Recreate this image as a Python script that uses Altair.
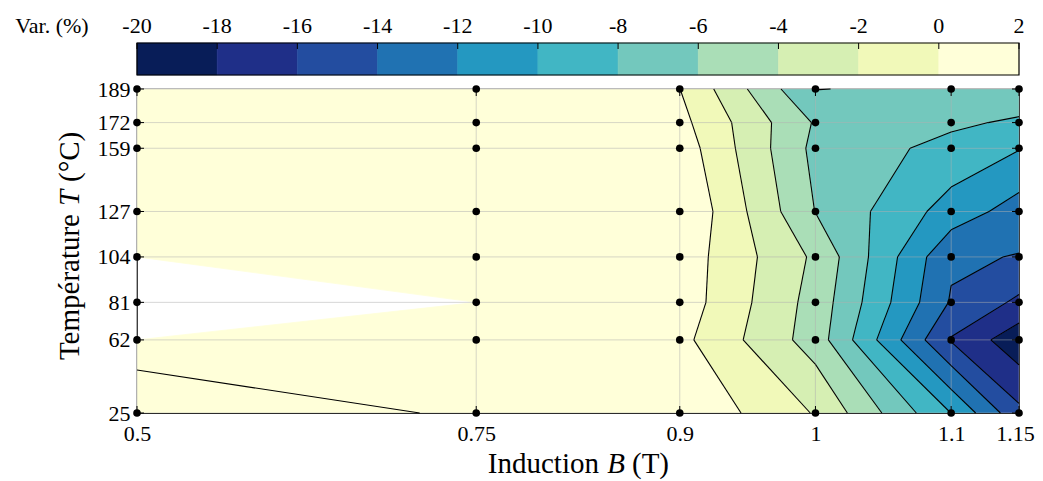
import altair as alt
import pandas as pd

# ---------------- data ----------------
B_VALUES = [0.5, 0.75, 0.9, 1.0, 1.1, 1.15]          # induction (T)
T_VALUES = [25, 62, 81, 104, 127, 159, 172, 189]      # temperature (°C)

# variation (%) for each temperature of T_VALUES, one list per induction
VAR_B050 = [2.40, 1.72, None, 1.40, 1.50, 1.30, 1.20, 1.00]
VAR_B075 = [1.92, 1.30, 1.40, 1.50, 1.60, 1.40, 1.20, 0.80]
VAR_B090 = [1.77, 0.57, 1.14, 1.16, 1.96, 1.16, 0.60, 0.02]
VAR_B100 = [-2.15, -4.93, -4.77, -4.36, -6.05, -6.55, -6.20, -8.05]
VAR_B110 = [-10.02, -16.17, -14.19, -13.68, -10.86, -8.63, -7.64, -7.60]
VAR_B115 = [-15.50, -19.30, -16.40, -14.10, -12.90, -9.90, -8.30, -6.60]

LEVELS = [-20, -18, -16, -14, -12, -10, -8, -6, -4, -2, 0, 2]
LEVEL_LABELS = ["-20", "-18", "-16", "-14", "-12", "-10", "-8", "-6", "-4", "-2", "0", "2"]

# ---------------- styles ----------------
PALETTE = ["#081d58", "#1f2f88", "#234da0", "#2072b2", "#2498c1", "#41b6c4",
           "#73c8bd", "#aadeb7", "#d6efb3", "#f1f9b9", "#ffffd9"]
FONT = "Liberation Serif"
W, H = 882, 324

Z = [VAR_B050, VAR_B075, VAR_B090, VAR_B100, VAR_B110, VAR_B115]
NB = len(LEVELS) - 1


def clip_poly(poly, level, keep_above):
    out = []
    n = len(poly)
    for k in range(n):
        a = poly[k]
        b = poly[(k + 1) % n]
        ina = (a[2] >= level) if keep_above else (a[2] <= level)
        inb = (b[2] >= level) if keep_above else (b[2] <= level)
        if ina:
            out.append(a)
        if ina != inb:
            t = (level - a[2]) / (b[2] - a[2])
            out.append((a[0] + t * (b[0] - a[0]), a[1] + t * (b[1] - a[1]), level))
    return out


# grid cells (quads, or triangles where one corner is missing)
cells = []
for i in range(len(B_VALUES) - 1):
    for j in range(len(T_VALUES) - 1):
        corners = [(i, j), (i + 1, j), (i + 1, j + 1), (i, j + 1)]
        pts = [(B_VALUES[a], T_VALUES[b], Z[a][b]) for a, b in corners if Z[a][b] is not None]
        if len(pts) >= 3:
            cells.append(pts)

# filled band polygons
poly_rows = []
pid = 0
for cell in cells:
    for k in range(NB):
        poly = list(cell)
        if k > 0:
            poly = clip_poly(poly, LEVELS[k], True)
        if k < NB - 1 and len(poly) >= 3:
            poly = clip_poly(poly, LEVELS[k + 1], False)
        if len(poly) >= 3:
            for idx, p in enumerate(poly + [poly[0]]):
                poly_rows.append({"pid": pid, "idx": idx, "B": p[0], "T": p[1], "band": k})
            pid += 1
poly_df = pd.DataFrame(poly_rows)

# contour line segments
seg_rows = []
for cell in cells:
    n = len(cell)
    zc = sum(p[2] for p in cell) / n
    for L in LEVELS:
        pts = []
        for k in range(n):
            a = cell[k]
            b = cell[(k + 1) % n]
            if (a[2] >= L) != (b[2] >= L):
                t = (L - a[2]) / (b[2] - a[2])
                pts.append((a[0] + t * (b[0] - a[0]), a[1] + t * (b[1] - a[1])))
        pairs = []
        if len(pts) == 2:
            pairs = [(pts[0], pts[1])]
        elif len(pts) == 4:
            if (cell[0][2] >= L) == (zc >= L):
                pairs = [(pts[0], pts[1]), (pts[2], pts[3])]
            else:
                pairs = [(pts[3], pts[0]), (pts[1], pts[2])]
        for p, q in pairs:
            seg_rows.append({"B": p[0], "T": p[1], "B2": q[0], "T2": q[1]})
seg_df = pd.DataFrame(seg_rows)

pts_df = pd.DataFrame([{"B": b, "T": t} for b in B_VALUES for t in T_VALUES])
bx_df = pd.DataFrame({"B": B_VALUES})
ty_df = pd.DataFrame({"T": T_VALUES})
cb_df = pd.DataFrame({"band": list(range(NB)), "lo": LEVELS[:-1], "hi": LEVELS[1:]})
cbl_df = pd.DataFrame({"v": LEVELS, "label": LEVEL_LABELS})

# ---------------- scales / helpers ----------------
XS = alt.Scale(domain=[0.5, 1.15], nice=False, zero=False)
YS = alt.Scale(domain=[25, 189], nice=False, zero=False)
CS = alt.Scale(domain=[-20, 2], nice=False, zero=False)
COL = alt.Scale(domain=list(range(NB)), range=PALETTE)


def X(f, axis=None):
    return alt.X(f, type="quantitative", scale=XS, axis=axis)


def Y(f, axis=None):
    return alt.Y(f, type="quantitative", scale=YS, axis=axis)


bands = alt.Chart(poly_df).mark_line(filled=True, strokeWidth=0.8, clip=True).encode(
    x=X("B"), y=Y("T"), detail="pid:N", order="idx:Q",
    fill=alt.Fill("band:O", scale=COL, legend=None),
    stroke=alt.Stroke("band:O", scale=COL, legend=None),
)

grid_v = alt.Chart(bx_df).mark_rule(color="#b0b0b0", opacity=0.5, strokeWidth=1).encode(x=X("B"))
grid_h = alt.Chart(ty_df).mark_rule(color="#b0b0b0", opacity=0.5, strokeWidth=1).encode(y=Y("T"))

contours = alt.Chart(seg_df).mark_rule(color="black", strokeWidth=1.1).encode(
    x=X("B"), y=Y("T"), x2="B2", y2="T2")

tick_b = alt.Chart(bx_df).mark_rule(color="black", strokeWidth=1).encode(
    x=X("B"), y=alt.value(H), y2=alt.value(H - 7))
tick_t = alt.Chart(bx_df).mark_rule(color="black", strokeWidth=1).encode(
    x=X("B"), y=alt.value(0), y2=alt.value(7))
tick_l = alt.Chart(ty_df).mark_rule(color="black", strokeWidth=1).encode(
    y=Y("T"), x=alt.value(0), x2=alt.value(7))
tick_r = alt.Chart(ty_df).mark_rule(color="black", strokeWidth=1).encode(
    y=Y("T"), x=alt.value(W), x2=alt.value(W - 7))

xaxis = alt.Axis(values=B_VALUES, labelExpr="format(datum.value, '.3~g')", title=None, grid=False,
                 ticks=False, tickSize=0, domain=False, labelFont=FONT, labelFontSize=22,
                 labelColor="black", labelPadding=10, labelFlush=False, labelOverlap=False,
                 labelOffset={"condition": {"test": "datum.value > 1.12", "value": -4}, "value": 0})
yaxis = alt.Axis(values=T_VALUES, format="d", title=None, grid=False, ticks=False, tickSize=0,
                 domain=False, labelFont=FONT, labelFontSize=22, labelColor="black",
                 labelPadding=7, labelOverlap=False)

dots = alt.Chart(pts_df).mark_circle(size=58, color="black", opacity=1).encode(
    x=X("B", axis=xaxis), y=Y("T", axis=yaxis))

# colorbar
cb = alt.Chart(cb_df).mark_rect(strokeWidth=0.6).encode(
    x=alt.X("lo:Q", scale=CS, axis=None), x2="hi",
    y=alt.value(-46), y2=alt.value(-14),
    fill=alt.Fill("band:O", scale=COL, legend=None),
    stroke=alt.Stroke("band:O", scale=COL, legend=None),
)
cb_frame = alt.Chart(pd.DataFrame({"lo": [LEVELS[0]], "hi": [LEVELS[-1]]})).mark_rect(
    filled=False, stroke="black", strokeWidth=1.2).encode(
    x=alt.X("lo:Q", scale=CS, axis=None), x2="hi", y=alt.value(-46), y2=alt.value(-14))
cb_ticks = alt.Chart(cbl_df).mark_rule(color="black", strokeWidth=1).encode(
    x=alt.X("v:Q", scale=CS, axis=None), y=alt.value(-46), y2=alt.value(-40))
cb_labels = alt.Chart(cbl_df).mark_text(font=FONT, fontSize=22, color="black",
                                        baseline="alphabetic").encode(
    x=alt.X("v:Q", scale=CS, axis=None), y=alt.value(-56), text="label:N")


def txt(s, x, y, align="center", angle=0, italic=False, size=22, baseline="alphabetic"):
    return alt.Chart(pd.DataFrame({"s": [s]})).mark_text(
        font=FONT, fontSize=size, color="black", align=align, angle=angle,
        baseline=baseline, fontStyle="italic" if italic else "normal").encode(
        x=alt.value(x), y=alt.value(y), text="s:N")


var_lbl = txt("Var. (%)", -85, -56)

xt1 = txt("Induction", 462, 384, align="right", size=29)
xt2 = txt("B", 479, 384, align="center", italic=True, size=29)
xt3 = txt("(T)", 495, 384, align="left", size=29)

yt1 = txt("Température", -67, 125, align="right", angle=270, size=29, baseline="middle")
yt2 = txt("T", -67, 109, align="center", angle=270, italic=True, size=29, baseline="middle")
yt3 = txt("(°C)", -67, 93, align="left", angle=270, size=29, baseline="middle")

chart = alt.layer(
    bands, grid_v, grid_h, contours, tick_b, tick_t, tick_l, tick_r, dots,
    cb, cb_frame, cb_ticks, cb_labels, var_lbl, xt1, xt2, xt3, yt1, yt2, yt3,
).resolve_scale(x="independent", y="independent").properties(
    width=W, height=H,
    autosize=alt.AutoSizeParams(type="none"),
    padding={"left": 129, "top": 81, "right": 16, "bottom": 68},
).configure_view(stroke="black", strokeWidth=1.2)

chart.save("out.html", embed_options={"renderer": "svg", "actions": False})
